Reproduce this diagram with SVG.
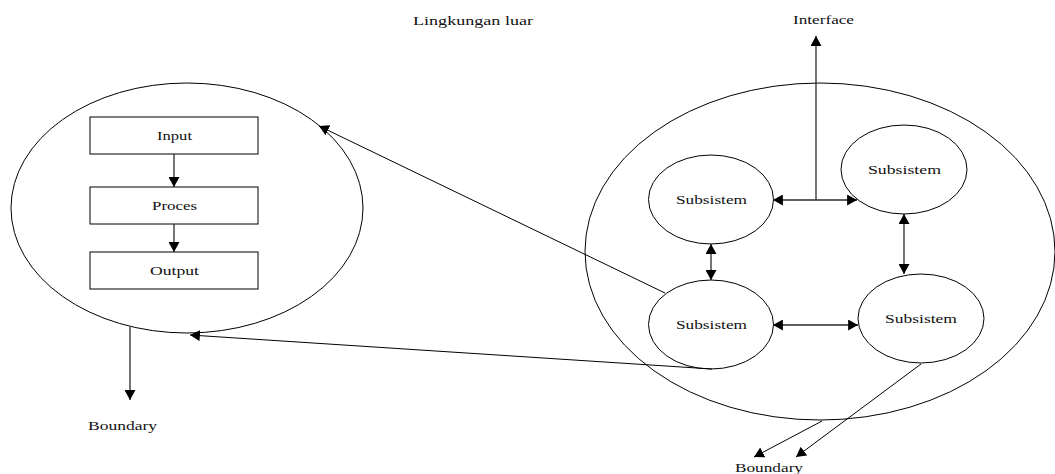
<svg xmlns="http://www.w3.org/2000/svg" width="1055" height="474" viewBox="0 0 1055 474">
  <style>
    .shape { fill: none; stroke: #000; stroke-width: 1; }
    .box { fill: #fff; stroke: #000; stroke-width: 1; }
    .conn { fill: none; stroke: #2a2a2a; stroke-width: 1.3; }
    .thin { fill: none; stroke: #000; stroke-width: 1; }
    .lbl { font-family: "Liberation Serif", "Times New Roman", serif; font-size: 11.5px; fill: #111; }
  </style>
  <defs>
    <marker id="arrow" markerUnits="userSpaceOnUse" markerWidth="10" markerHeight="11" viewBox="0 0 9 10" refX="9" refY="5" orient="auto-start-reverse">
      <path d="M0,0 L9,5 L0,10 z" fill="#000"/>
    </marker>
  </defs>

  <rect width="1055" height="474" fill="#fff"/>

  <!-- free labels -->
  <text class="lbl" x="413" y="25" textLength="120" lengthAdjust="spacingAndGlyphs">Lingkungan luar</text>
  <text class="lbl" x="793" y="24" textLength="61" lengthAdjust="spacingAndGlyphs">Interface</text>
  <text class="lbl" x="88" y="430" textLength="69" lengthAdjust="spacingAndGlyphs">Boundary</text>
  <text class="lbl" x="735" y="472" textLength="68" lengthAdjust="spacingAndGlyphs">Boundary</text>

  <!-- outer system (left) -->
  <g id="system-left">
    <ellipse class="shape" cx="187" cy="208" rx="176" ry="125"/>
  </g>
  <g id="input">
    <rect class="box" x="90" y="117" width="168" height="37"/>
    <text class="lbl" x="157" y="140" textLength="35" lengthAdjust="spacingAndGlyphs">Input</text>
  </g>
  <g id="proces">
    <rect class="box" x="90" y="187" width="168" height="37"/>
    <text class="lbl" x="152" y="210" textLength="45" lengthAdjust="spacingAndGlyphs">Proces</text>
  </g>
  <g id="output">
    <rect class="box" x="90" y="252" width="168" height="37"/>
    <text class="lbl" x="150" y="275" textLength="49" lengthAdjust="spacingAndGlyphs">Output</text>
  </g>

  <!-- outer system (right) -->
  <g id="system-right">
    <ellipse class="shape" cx="820" cy="251.5" rx="235" ry="168.5"/>
  </g>
  <g id="subsistem-tl">
    <ellipse class="shape" cx="711" cy="199.5" rx="62.5" ry="44.5"/>
    <text class="lbl" x="676" y="204" textLength="71" lengthAdjust="spacingAndGlyphs">Subsistem</text>
  </g>
  <g id="subsistem-tr">
    <ellipse class="shape" cx="904" cy="169.5" rx="63" ry="44.5"/>
    <text class="lbl" x="868" y="174" textLength="73" lengthAdjust="spacingAndGlyphs">Subsistem</text>
  </g>
  <g id="subsistem-bl">
    <ellipse class="shape" cx="711" cy="324.5" rx="62.5" ry="44.5"/>
    <text class="lbl" x="676" y="329" textLength="71" lengthAdjust="spacingAndGlyphs">Subsistem</text>
  </g>
  <g id="subsistem-br">
    <ellipse class="shape" cx="921" cy="318.5" rx="63" ry="44.5"/>
    <text class="lbl" x="885" y="323" textLength="72" lengthAdjust="spacingAndGlyphs">Subsistem</text>
  </g>

  <!-- connectors -->
  <g id="connectors">
    <!-- input -> proces -> output -->
    <line class="conn" x1="174" y1="154" x2="174" y2="187" marker-end="url(#arrow)"/>
    <line class="conn" x1="174" y1="224" x2="174" y2="252" marker-end="url(#arrow)"/>
    <!-- left boundary -->
    <line class="conn" x1="130" y1="327" x2="130" y2="400" marker-end="url(#arrow)"/>
    <!-- subsystem back to left system -->
    <line class="thin" x1="665" y1="293" x2="319" y2="126" marker-end="url(#arrow)"/>
    <line class="thin" x1="712" y1="369" x2="190" y2="335" marker-end="url(#arrow)"/>
    <!-- interface -->
    <line class="conn" x1="816" y1="200" x2="816" y2="36" marker-end="url(#arrow)"/>
    <line class="conn" x1="773" y1="200" x2="857" y2="200" marker-start="url(#arrow)" marker-end="url(#arrow)"/>
    <!-- subsystem links -->
    <line class="conn" x1="711" y1="244" x2="711" y2="280" marker-start="url(#arrow)" marker-end="url(#arrow)"/>
    <line class="conn" x1="904" y1="214" x2="904" y2="274" marker-start="url(#arrow)" marker-end="url(#arrow)"/>
    <line class="conn" x1="773" y1="325" x2="858" y2="325" marker-start="url(#arrow)" marker-end="url(#arrow)"/>
    <!-- bottom boundary -->
    <line class="thin" x1="822" y1="421" x2="754" y2="457" marker-end="url(#arrow)"/>
    <line class="thin" x1="921" y1="364" x2="796" y2="457" marker-end="url(#arrow)"/>
  </g>
</svg>
